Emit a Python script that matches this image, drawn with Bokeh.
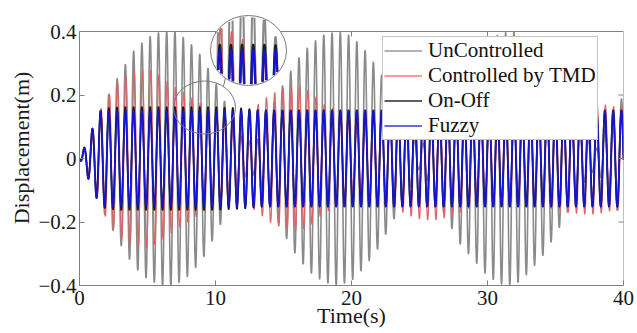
import numpy as np
from bokeh.plotting import figure
from bokeh.models import Range1d, FixedTicker, Legend, LegendItem
from bokeh.embed import file_html
from bokeh.resources import INLINE

# ---- data -------------------------------------------------------------
x_ticks = [0, 10, 20, 30, 40]
y_ticks = [-0.4, -0.2, 0, 0.2, 0.4]

series_names = ["UnControlled", "Controlled by TMD", "On-Off", "Fuzzy"]

# dominant oscillation of the structure
carrier_hz = 1.645
delay_s = [0.18, 0.22, 0.18, 0.18]

# envelope knots (s) and peak displacement (m) of each response
env_t = [0, 0.5, 1, 1.5, 2, 3, 4, 5, 6, 7, 8, 9, 10, 11, 12, 13, 14, 15, 16,
         17, 18, 19, 20, 21, 22, 23, 24, 25, 26, 27, 28, 29, 30, 31, 32, 33,
         34, 35, 36, 37, 38, 39, 40]
env_uncontrolled = [0.0, 0.04, 0.08, 0.14, 0.19, 0.27, 0.34, 0.38, 0.40, 0.40,
                    0.37, 0.32, 0.24, 0.15, 0.06, 0.05, 0.15, 0.235, 0.31,
                    0.36, 0.39, 0.40, 0.385, 0.34, 0.28, 0.20, 0.12, 0.03,
                    0.10, 0.19, 0.27, 0.32, 0.37, 0.395, 0.40, 0.36, 0.31,
                    0.24, 0.16, 0.08, 0.03, 0.12, 0.20]
env_tmd = [0.0, 0.04, 0.09, 0.15, 0.19, 0.25, 0.275, 0.283, 0.26, 0.225,
           0.20, 0.17, 0.145, 0.13, 0.14, 0.165, 0.20, 0.22, 0.23, 0.21,
           0.17, 0.15, 0.14, 0.135, 0.14, 0.15, 0.175, 0.19, 0.195, 0.185,
           0.17, 0.15, 0.14, 0.135, 0.14, 0.145, 0.15, 0.16, 0.17, 0.175,
           0.175, 0.165, 0.16]
env_onoff = [0.0, 0.05, 0.10, 0.15, 0.158, 0.162, 0.162, 0.162, 0.162, 0.162,
             0.162, 0.162, 0.162, 0.160, 0.158, 0.153, 0.152, 0.152, 0.152,
             0.152, 0.152, 0.152, 0.152, 0.152, 0.152, 0.152, 0.152, 0.152,
             0.152, 0.152, 0.152, 0.152, 0.152, 0.152, 0.152, 0.152, 0.152,
             0.152, 0.152, 0.152, 0.152, 0.152, 0.152]
env_fuzzy = [0.0, 0.05, 0.10, 0.148, 0.15, 0.15, 0.15, 0.15, 0.15, 0.15,
             0.15, 0.15, 0.15, 0.15, 0.15, 0.15, 0.15, 0.15, 0.15, 0.15,
             0.15, 0.15, 0.15, 0.15, 0.15, 0.15, 0.15, 0.15, 0.15, 0.15,
             0.15, 0.15, 0.15, 0.15, 0.15, 0.15, 0.15, 0.15, 0.15, 0.15,
             0.15, 0.15, 0.15]

envelopes = [env_uncontrolled, env_tmd, env_onoff, env_fuzzy]
colors = ["#8a8a8a", "#dc6464", "#1c1c1c", "#1414d2"]
widths = [1.6, 1.2, 1.7, 1.6]
legend_colors = ["#9a9a9a", "#f07a7a", "#2a2a2a", "#3a3ad0"]


def response(k, t):
    amp = np.interp(t, env_t, envelopes[k])
    return amp * np.sin(2 * np.pi * carrier_hz * (t - delay_s[k]))


# ---- layout -------------------------------------------------------------
W, H = 637, 333
B_LEFT, B_RIGHT, B_TOP, B_BOTTOM = 79, 14, 10, 48
frame_w = W - B_LEFT - B_RIGHT
frame_h = H - B_TOP - B_BOTTOM
px_per_s = frame_w / (x_ticks[-1] - x_ticks[0])
px_per_m = 254 / (y_ticks[-1] - y_ticks[0])
y_top = y_ticks[0] + frame_h / px_per_m

SERIF = "Liberation Serif"
AXIS_GRAY = "#808080"
TEXT = "#1a1a1a"

p = figure(width=W, height=H, output_backend="svg", toolbar_location=None,
           x_range=Range1d(x_ticks[0], x_ticks[-1]),
           y_range=Range1d(y_ticks[0], y_top),
           min_border_left=B_LEFT, min_border_right=B_RIGHT,
           min_border_top=B_TOP, min_border_bottom=B_BOTTOM)
p.outline_line_color = None
p.xgrid.visible = False
p.ygrid.visible = False
p.background_fill_color = "white"

for axes in (p.xaxis, p.yaxis):
    axes.axis_line_color = AXIS_GRAY
    axes.major_tick_line_color = AXIS_GRAY
    axes.minor_tick_line_color = None
    axes.major_tick_in = 5
    axes.major_tick_out = 0
    axes.major_label_text_font = SERIF
    axes.major_label_text_font_size = "21px"
    axes.major_label_text_font_style = "normal"
    axes.major_label_text_color = TEXT
    axes.axis_label_text_font = SERIF
    axes.axis_label_text_font_size = "22px"
    axes.axis_label_text_font_style = "normal"
    axes.axis_label_text_color = TEXT

p.xaxis.ticker = FixedTicker(ticks=x_ticks)
p.yaxis.ticker = FixedTicker(ticks=y_ticks)
p.yaxis.bounds = (y_ticks[0], y_ticks[-1])
p.yaxis.major_label_overrides = {0: "0"}
p.xaxis.axis_label = "Time(s)"
p.yaxis.axis_label = "Displacement(m)"
p.xaxis.major_label_standoff = 5
p.xaxis.axis_label_standoff = -5
p.yaxis.major_label_standoff = 3
p.yaxis.axis_label_standoff = 1

# ---- responses ----------------------------------------------------------
t = np.linspace(x_ticks[0], x_ticks[-1], 16001)
for k in range(4):
    p.line(t, response(k, t), line_color=colors[k], line_width=widths[k])

# top and right sides of the box, with inward ticks
tick_x = 5 / px_per_s
tick_y = 5 / px_per_m
p.segment(x0=[x_ticks[0], x_ticks[-1]], y0=[y_ticks[-1], y_ticks[0]],
          x1=[x_ticks[-1], x_ticks[-1]], y1=[y_ticks[-1], y_ticks[-1]],
          line_color=AXIS_GRAY, line_width=1)
p.segment(x0=x_ticks[1:-1], y0=[y_ticks[-1]] * 3, x1=x_ticks[1:-1],
          y1=[y_ticks[-1] - tick_y] * 3, line_color=AXIS_GRAY, line_width=1)
p.segment(x0=[x_ticks[-1]] * 3, y0=y_ticks[1:-1],
          x1=[x_ticks[-1] - tick_x] * 3, y1=y_ticks[1:-1],
          line_color=AXIS_GRAY, line_width=1)

# ---- magnified detail ---------------------------------------------------
def to_data(px, py):
    return (px - B_LEFT) / px_per_s + x_ticks[0], y_top - (py - B_TOP) / px_per_m


small_c, small_r = (204, 107), (31, 26.5)
big_c, big_r = (248, 50), (38, 35)
mag = 1.35

ts, vs = to_data(*small_c)
tb, vb = to_data(*big_c)

# connector between the two circles
dx, dy = big_c[0] - small_c[0], big_c[1] - small_c[1]
n = np.hypot(dx, dy)
ux, uy = dx / n, dy / n
c0 = to_data(small_c[0] + small_r[0] * ux, small_c[1] + small_r[1] * uy)
c1 = to_data(big_c[0] - big_r[0] * ux, big_c[1] - big_r[1] * uy)
p.line([c0[0], c1[0]], [c0[1], c1[1]], line_color="#7a7a7a", line_width=1)

p.ellipse(x=[ts], y=[vs], width=2 * small_r[0], height=2 * small_r[1],
          width_units="screen", height_units="screen",
          fill_color=None, line_color="#7a7a7a", line_width=1)
p.ellipse(x=[tb], y=[vb], width=2 * big_r[0], height=2 * big_r[1],
          width_units="screen", height_units="screen",
          fill_color="white", line_color=None)

half_w = big_r[0] / (px_per_s * mag)
tt = np.linspace(ts - half_w, ts + half_w, 4000)
for k in range(4):
    vv = response(k, tt)
    ddx = (tt - ts) * px_per_s * mag
    ddy = (vv - vs + 0.012) * px_per_m * mag
    inside = (ddx / (big_r[0] - 1)) ** 2 + (ddy / (big_r[1] - 1)) ** 2 <= 1
    xi = np.where(inside, tb + ddx / px_per_s, np.nan)
    yi = np.where(inside, vb + ddy / px_per_m, np.nan)
    p.line(xi, yi, line_color=colors[k], line_width=widths[k] * 1.3)

p.ellipse(x=[tb], y=[vb], width=2 * big_r[0], height=2 * big_r[1],
          width_units="screen", height_units="screen",
          fill_color=None, line_color="#7a7a7a", line_width=1)

# ---- legend -------------------------------------------------------------
items = []
for name, col in zip(series_names, legend_colors):
    r = p.line([np.nan], [np.nan], line_color=col, line_width=1.3)
    items.append(LegendItem(label=name, renderers=[r]))

legend = Legend(items=items, location=(303, 145), margin=0, padding=1,
                spacing=0, glyph_width=38, glyph_height=25, label_height=25,
                label_width=166, label_standoff=6,
                label_text_font=SERIF, label_text_font_size="21px",
                label_text_color="#111111",
                border_line_color="#8c8c8c", border_line_width=1,
                background_fill_color="white", background_fill_alpha=1.0)
p.add_layout(legend)

open("out.html", "w").write(file_html(p, INLINE))
